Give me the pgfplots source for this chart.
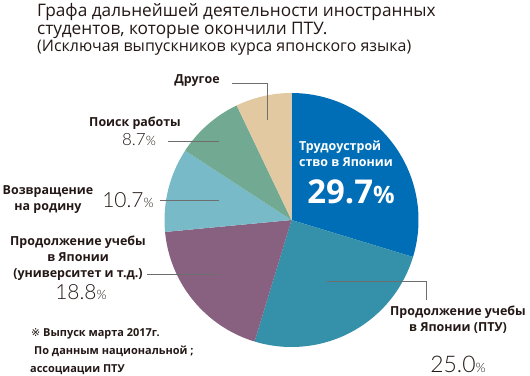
\documentclass[border=0pt]{standalone}
\usepackage{fontspec}
\setmainfont{Open Sans}
\newfontfamily\numfont{Lato Light}
\usepackage{pgfplots}
\usepackage{pgfplotstable}
\pgfplotsset{compat=1.18}
\definecolor{c0}{HTML}{006EB6}
\definecolor{c1}{HTML}{3590AA}
\definecolor{c2}{HTML}{87617F}
\definecolor{c3}{HTML}{79BAC9}
\definecolor{c4}{HTML}{71A993}
\definecolor{c5}{HTML}{E2C9A1}
\definecolor{txt}{HTML}{231815}
\definecolor{lead}{HTML}{6E6E6E}
\pgfplotstableread{
idx value
0 29.7
1 25.0
2 18.8
3 10.7
4 8.7
5 7.1
}\piedata
\gdef\cum{90}
\foreach \i in {0,...,5}{%
  \pgfplotstablegetelem{\i}{value}\of\piedata
  \pgfmathsetmacro\st{\cum}%
  \pgfmathsetmacro\en{\cum-3.6*\pgfplotsretval}%
  \expandafter\xdef\csname pst\i\endcsname{\st}%
  \expandafter\xdef\csname pen\i\endcsname{\en}%
  \xdef\cum{\en}%
}
\newcommand\lbl{\fontsize{12.5}{16}\selectfont\bfseries}
\newcommand\fn{\fontsize{11}{13}\selectfont\bfseries}
\newcommand\pct[2]{{\numfont\fontsize{#1}{#1}\selectfont #2{\fontsize{13}{13}\selectfont\%}}}
\begin{document}
\begin{tikzpicture}
\begin{axis}[
  scale only axis, width=530bp, height=375bp,
  xmin=0, xmax=530, ymin=0, ymax=375,
  hide axis, clip=false]
\coordinate (ll) at (axis cs:0,0);
\coordinate (ur) at (axis cs:530,375);
\pgfplotsinvokeforeach{0,...,5}{%
  \fill[c#1] (axis cs:291.5,155) -- ++(\csname pst#1\endcsname:127bp)
     arc[start angle=\csname pst#1\endcsname, end angle=\csname pen#1\endcsname, radius=127bp] -- cycle;
}
% leader lines
\draw[lead, line width=0.6bp] (axis cs:232,292) -- (axis cs:267,292) -- (axis cs:267,255);
\draw[lead, line width=0.6bp] (axis cs:168,234) -- (axis cs:219,234);
\draw[lead, line width=0.6bp] (axis cs:160,175) -- (axis cs:219,175);
\draw[lead, line width=0.6bp] (axis cs:147,101) -- (axis cs:219,101);
\draw[lead, line width=0.6bp] (axis cs:327,94) -- (axis cs:426,94) -- (axis cs:426,75);
% title
\node[anchor=base west, txt, font=\fontsize{17.3}{18}\selectfont, inner sep=0pt] at (axis cs:37,358) {Графа дальнейшей деятельности иностранных};
\node[anchor=base west, txt, font=\fontsize{17.3}{18}\selectfont, inner sep=0pt] at (axis cs:37,340) {студентов, которые окончили ПТУ.};
\node[anchor=base west, txt, font=\fontsize{16}{16}\selectfont, inner sep=0pt] at (axis cs:37,323) {(Исключая выпускников курса японского языка)};
% labels
\node[txt, font=\lbl, inner sep=0pt] at (axis cs:197,294) {Другое};
\node[txt, font=\lbl, inner sep=0pt] at (axis cs:135,252) {Поиск работы};
\node[txt, inner sep=0pt] at (axis cs:139,235) {\pct{17}{8.7}};
\node[txt, font=\lbl, align=center, inner sep=0pt] at (axis cs:48,175) {Возвращение\\на родину};
\node[txt, inner sep=0pt] at (axis cs:128,175) {\pct{21}{10.7}};
\node[txt, font=\lbl, align=center, inner sep=0pt] at (axis cs:78,117) {Продолжение учебы\\в Японии\\(университет и т.д.)};
\node[txt, inner sep=0pt] at (axis cs:81,83) {\pct{21}{18.8}};
\node[white, font=\lbl, align=left, anchor=north west, inner sep=0pt] at (axis cs:299,234) {Трудоустрой\\ство в Японии};
\node[white, inner sep=0pt] at (axis cs:351,183) {\fontsize{33}{33}\selectfont\bfseries 29.7{\fontsize{24}{24}\selectfont\%}};
\node[txt, font=\lbl, align=center, inner sep=0pt] at (axis cs:458,55) {Продолжение учебы\\в Японии (ПТУ)};
\node[txt, inner sep=0pt, anchor=base] at (axis cs:458,3) {\pct{23}{25.0}};
\node[txt, font=\fn, anchor=base west, inner sep=0pt] at (axis cs:31,39) {{\fontspec{DejaVu Sans}\mdseries ※} Выпуск марта 2017г.};
\node[txt, font=\fn, anchor=base west, inner sep=0pt] at (axis cs:34,21) {По данным национальной ;};
\node[txt, font=\fn, anchor=base west, inner sep=0pt] at (axis cs:30,3) {ассоциации ПТУ};
\end{axis}
\pgfresetboundingbox
\path[use as bounding box] (ll) rectangle (ur);
\end{tikzpicture}
\end{document}
